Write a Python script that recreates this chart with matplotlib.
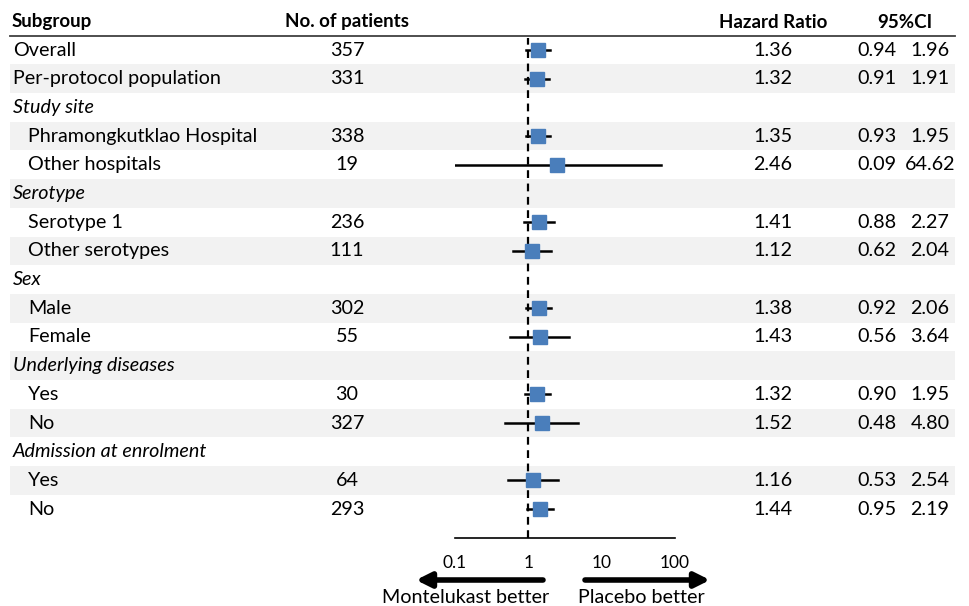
import numpy as np
import matplotlib.pyplot as plt

plt.rcParams['font.family'] = ['Lato', 'DejaVu Sans']

# subgroup table
labels = ['Overall', 'Per-protocol population', 'Study site',
          'Phramongkutklao Hospital', 'Other hospitals', 'Serotype',
          'Serotype 1', 'Other serotypes', 'Sex', 'Male', 'Female',
          'Underlying diseases', 'Yes', 'No', 'Admission at enrolment',
          'Yes', 'No']
indent = [0, 0, 0, 1, 1, 0, 1, 1, 0, 1, 1, 0, 1, 1, 0, 1, 1]
heading = [0, 0, 1, 0, 0, 1, 0, 0, 1, 0, 0, 1, 0, 0, 1, 0, 0]
n_pat = [357, 331, None, 338, 19, None, 236, 111, None, 302, 55,
         None, 30, 327, None, 64, 293]
hr = [1.36, 1.32, None, 1.35, 2.46, None, 1.41, 1.12, None, 1.38, 1.43,
      None, 1.32, 1.52, None, 1.16, 1.44]
ci_lo = [0.94, 0.91, None, 0.93, 0.09, None, 0.88, 0.62, None, 0.92, 0.56,
         None, 0.90, 0.48, None, 0.53, 0.95]
ci_hi = [1.96, 1.91, None, 1.95, 64.62, None, 2.27, 2.04, None, 2.06, 3.64,
         None, 1.95, 4.80, None, 2.54, 2.19]
xticks = [0.1, 1, 10, 100]
xticklabels = ['0.1', '1', '10', '100']

W, H = 969, 606
row0, rowh = 50, 28.7          # pixel y of first row and row spacing
def px2row(p):
    return (p - row0) / rowh

fig = plt.figure(figsize=(W / 100, H / 100), dpi=100)
bg = fig.add_axes([0, 0, 1, 1])
bg.set_xlim(0, W)
bg.set_ylim(px2row(H), px2row(0))
bg.axis('off')

rows = np.arange(len(labels))
fs = 14.2
hfs = 13.5
# alternating shading
for r in rows:
    if r % 2 == 1:
        bg.fill_between([10, 955], r - 0.5, r + 0.5, color='#f2f2f2', lw=0, zorder=0)

# header
hy = px2row(22)
bg.text(12, hy, 'Subgroup', fontsize=hfs, fontweight='bold', va='center')
bg.text(347, hy, 'No. of patients', fontsize=hfs, fontweight='bold', va='center', ha='center')
bg.text(773, hy, 'Hazard Ratio', fontsize=hfs, fontweight='bold', va='center', ha='center')
bg.text(905, hy, '95%CI', fontsize=hfs, fontweight='bold', va='center', ha='center')
bg.plot([10, 955], [px2row(36)] * 2, color='#404040', lw=1.3)

for r in rows:
    x0 = 28 if indent[r] else 13
    bg.text(x0, r, labels[r], fontsize=fs, va='center',
            style='italic' if heading[r] else 'normal')
    if n_pat[r] is not None:
        bg.text(347, r, str(n_pat[r]), fontsize=fs, va='center', ha='center')
        bg.text(773, r, f'{hr[r]:.2f}', fontsize=fs, va='center', ha='center')
        bg.text(877, r, f'{ci_lo[r]:.2f}', fontsize=fs, va='center', ha='center')
        bg.text(930, r, f'{ci_hi[r]:.2f}', fontsize=fs, va='center', ha='center')

# forest panel
ax = fig.add_axes([455 / W, 1 - 538 / H, 220 / W, (538 - 38) / H])
ax.patch.set_alpha(0)
ax.set_xscale('log')
ax.set_xlim(0.1, 100)
ax.set_ylim(px2row(538), px2row(38))
ax.axvline(1, color='black', ls=(0, (3.5, 2.5)), lw=1.6, zorder=1)
for r in rows:
    if hr[r] is None:
        continue
    ax.plot([ci_lo[r], ci_hi[r]], [r, r], color='black', lw=1.8, zorder=2)
    ax.plot(hr[r], r, marker='s', ms=9.5, color='#4a7ebb', mec='#4a7ebb', zorder=3)
for s in ['top', 'left', 'right']:
    ax.spines[s].set_visible(False)
ax.spines['bottom'].set_linewidth(1.2)
ax.set_yticks([])
ax.set_xticks(xticks)
ax.set_xticklabels(xticklabels, fontsize=12.5)
ax.minorticks_off()
ax.tick_params(axis='x', length=0, pad=12)

# direction arrows
ay = px2row(580)
bg.annotate('', xy=(416, ay), xytext=(543, ay),
            arrowprops=dict(arrowstyle='-|>', lw=4, color='black', mutation_scale=22,
                            shrinkA=0, shrinkB=0))
bg.annotate('', xy=(710, ay), xytext=(585, ay),
            arrowprops=dict(arrowstyle='-|>', lw=4, color='black', mutation_scale=22,
                            shrinkA=0, shrinkB=0))
ly = px2row(597)
bg.text(466, ly, 'Montelukast better', fontsize=fs, ha='center', va='center')
bg.text(641, ly, 'Placebo better', fontsize=fs, ha='center', va='center')

fig.savefig('out.png', dpi=100)
